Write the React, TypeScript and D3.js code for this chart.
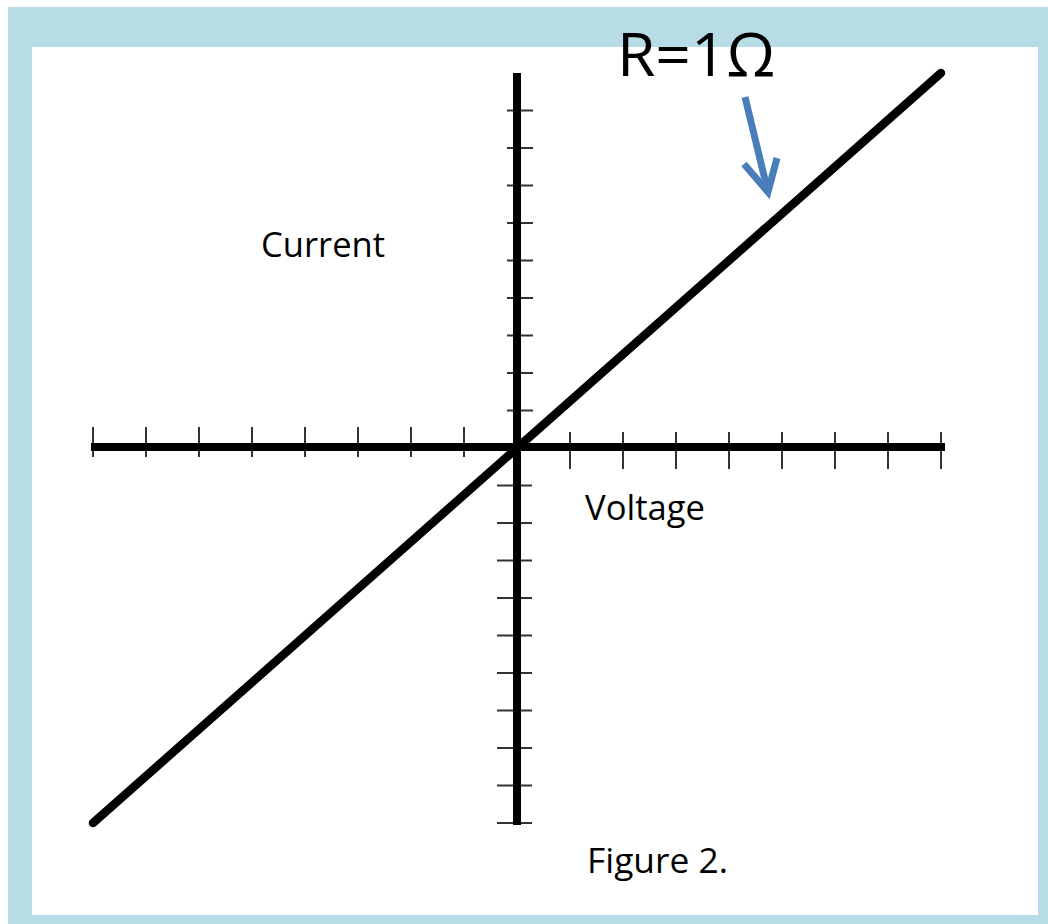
import React from "react";
import * as d3 from "d3";

// Ohm's law line for a 1 Ω resistor: current against voltage
const voltage = [-10, 0, 10];
const current = [-10, 0, 10];
const resistanceLabel = "R=1Ω";
const xTickValues = d3.range(-10, 10.001, 1.25).filter((v) => v !== 0);
const yTickValues = d3.range(-10, 10, 1).filter((v) => v !== 0);

const W = 1048;
const H = 924;

export default function App() {
  const x = d3.scaleLinear().domain([-10, 10]).range([93, 941]);
  const y = d3.scaleLinear().domain([-10, 10]).range([823, 73]);
  const pts = voltage.map((v, i) => [v, current[i]] as [number, number]);
  const line = d3
    .line<[number, number]>()
    .x((d) => x(d[0]))
    .y((d) => y(d[1]));

  const x0 = x(0);
  const y0 = y(0);
  const font = "'Open Sans', 'DejaVu Sans', sans-serif";

  return (
    <svg
      width={W}
      height={H}
      style={{ position: "absolute", left: 0, top: 0, display: "block" }}
    >
      <rect x={0} y={0} width={W} height={H} fill="#ffffff" />
      <rect x={8} y={7} width={W - 8} height={H - 7} fill="#b8dce5" />
      <rect x={32} y={47} width={1006} height={868} fill="#ffffff" />

      {/* ticks on the voltage axis */}
      {xTickValues.map((v) => (
        <line
          key={"xt" + v}
          x1={x(v)}
          x2={x(v)}
          y1={v < 0 ? y0 - 21 : y0 - 16}
          y2={v < 0 ? y0 + 9 : y0 + 21}
          stroke="#333"
          strokeWidth={2}
        />
      ))}
      {/* ticks on the current axis */}
      {yTickValues.map((v) => (
        <line
          key={"yt" + v}
          x1={v > 0 ? x0 - 10 : x0 - 20}
          x2={v > 0 ? x0 + 16 : x0 + 15}
          y1={y(v)}
          y2={y(v)}
          stroke="#333"
          strokeWidth={2}
        />
      ))}

      {/* axes */}
      <line x1={91} x2={945} y1={y0 - 1} y2={y0 - 1} stroke="#000" strokeWidth={8} />
      <line x1={x0} x2={x0} y1={73} y2={825} stroke="#000" strokeWidth={8} />

      {/* I–V line */}
      <path
        d={line(pts) || ""}
        fill="none"
        stroke="#000"
        strokeWidth={8.5}
        strokeLinecap="round"
      />

      {/* labels */}
      <text x={261} y={257} fontFamily={font} fontSize={34} fontWeight={500} textLength={124} lengthAdjust="spacingAndGlyphs" fill="#000">
        Current
      </text>
      <text x={585} y={520} fontFamily={font} fontSize={34} fontWeight={500} textLength={120} lengthAdjust="spacingAndGlyphs" fill="#000">
        Voltage
      </text>
      <text x={587} y={873} fontFamily={font} fontSize={34} fontWeight={500} textLength={141} lengthAdjust="spacingAndGlyphs" fill="#000">
        Figure 2.
      </text>
      <text x={617} y={76} fontFamily={font} fontSize={61} fontWeight={500} textLength={158} lengthAdjust="spacingAndGlyphs" fill="#000">
        {resistanceLabel}
      </text>

      {/* arrow pointing at the line */}
      <g stroke="#4a7ebb" strokeWidth={7} fill="none" strokeLinecap="butt" strokeLinejoin="miter">
        <line x1={745} y1={97} x2={767} y2={188} />
        <polyline points="744,164 768,192 777,158" />
      </g>
    </svg>
  );
}
